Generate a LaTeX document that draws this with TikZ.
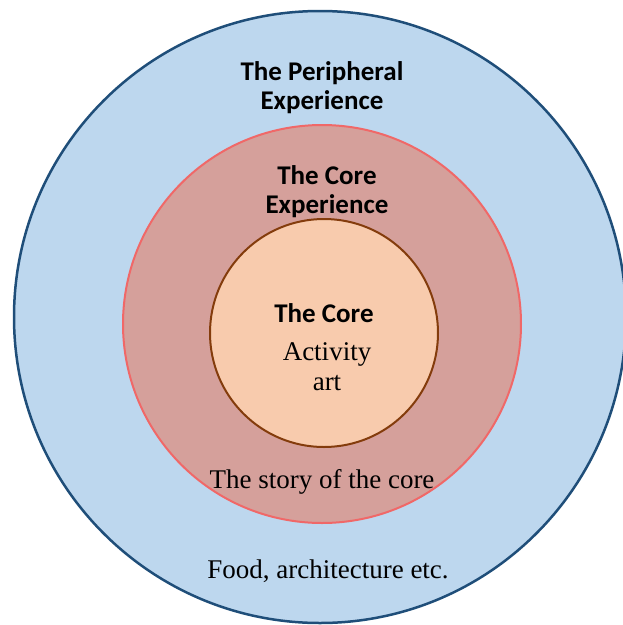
\documentclass[tikz,border=0pt]{standalone}
\usepackage{fontspec}
\setmainfont{Liberation Serif}
\newfontfamily\calibri{Carlito}
\definecolor{periblue}{RGB}{189,215,238}
\definecolor{peridark}{RGB}{31,78,121}
\definecolor{corered}{RGB}{213,160,155}
\definecolor{coreline}{RGB}{240,104,104}
\definecolor{innerfill}{RGB}{248,203,173}
\definecolor{innerline}{RGB}{132,60,12}
\tikzset{
  headtext/.style={align=center,font=\calibri\bfseries\fontsize{27}{29}\selectfont},
  bodytext/.style={align=center,font=\fontsize{27}{30}\selectfont}
}

\begin{document}
\begin{tikzpicture}[x=1pt,y=-1pt]
\useasboundingbox (0,0) rectangle (623,625);
\clip (0,0) rectangle (623,625);

\draw[fill=periblue,draw=peridark,line width=2.5pt] (320, 317) circle (306);
\draw[fill=corered,draw=coreline,line width=2pt] (322, 324) circle (199);
\draw[fill=innerfill,draw=innerline,line width=2pt] (324, 333) circle (114);

\node[headtext] (peri) at (322, 88) {The Peripheral\\Experience};
\node[headtext] (coreexp) at (327, 192) {The Core\\Experience};
\node[headtext] (core) at (324, 313) {The Core};
\node[bodytext] (activity) at (327, 367) {Activity\\art};
\node[bodytext] (story) at (322, 482) {The story of the core};
\node[bodytext] (food) at (328, 571) {Food, architecture etc.};
\end{tikzpicture}
\end{document}
